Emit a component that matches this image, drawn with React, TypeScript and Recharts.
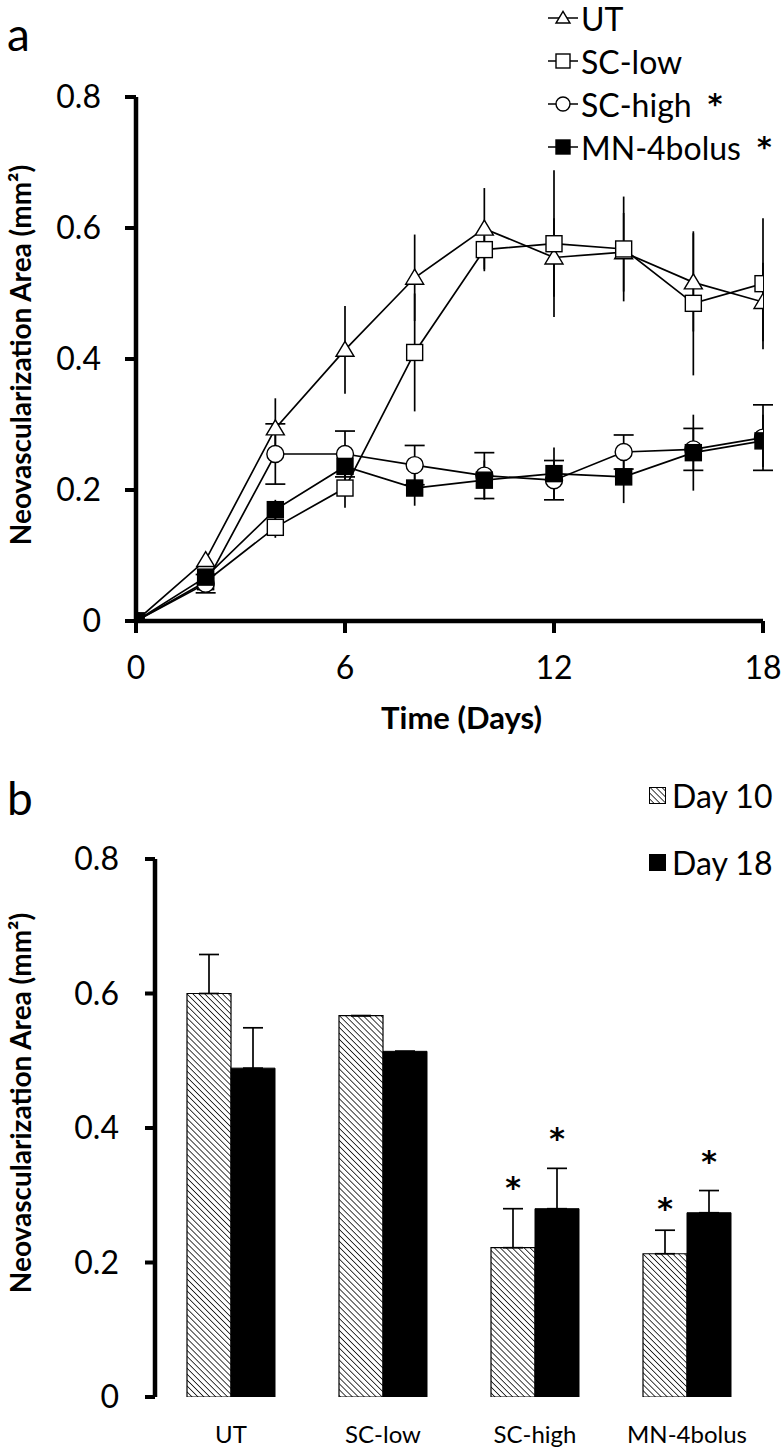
import React from 'react'
import { LineChart, Line, XAxis, YAxis, ErrorBar, BarChart, Bar, LabelList, Label } from 'recharts'

const FONT = 'Lato, "Open Sans", sans-serif'
const STAR_FONT = '"DejaVu Sans", sans-serif'

// panel a: time course
const days = [0, 2, 4, 6, 8, 10, 12, 14, 16, 18]
const utMean = [0, 0.093, 0.294, 0.414, 0.524, 0.599, 0.555, 0.563, 0.517, 0.487]
const utErr = [0, 0.01, 0.046, 0.067, 0.066, 0.062, 0.06, 0.06, 0.075, 0.06]
const scLowMean = [0, 0.06, 0.143, 0.203, 0.41, 0.567, 0.576, 0.568, 0.485, 0.515]
const scLowErr = [0, 0.01, 0.016, 0.03, 0.09, 0.033, 0.112, 0.08, 0.11, 0.1]
const scHighMean = [0, 0.057, 0.255, 0.255, 0.238, 0.222, 0.215, 0.258, 0.262, 0.28]
const scHighErr = [0, 0.014, 0.046, 0.035, 0.03, 0.035, 0.03, 0.026, 0.032, 0.05]
const mnMean = [0, 0.067, 0.17, 0.236, 0.203, 0.215, 0.225, 0.22, 0.257, 0.275]
const mnErr = [0, 0.01, 0.015, 0.02, 0.027, 0.03, 0.04, 0.04, 0.058, 0.04]
const dayTicks = [0, 6, 12, 18]
const areaTicks = [0, 0.2, 0.4, 0.6, 0.8]

// panel b: day 10 / day 18 comparison
const groups = ['UT', 'SC-low', 'SC-high', 'MN-4bolus']
const day10Mean = [0.6, 0.567, 0.222, 0.213]
const day10Err = [0.058, 0, 0.058, 0.035]
const day18Mean = [0.489, 0.514, 0.28, 0.274]
const day18Err = [0.06, 0, 0.06, 0.033]
const significant = [false, false, true, true]
const groupEdges = [0, 1, 2, 3, 4]

const timeData = days.map((day, i) => ({
  day,
  ut: utMean[i],
  utErr: utErr[i],
  scLow: scLowMean[i],
  scLowErr: scLowErr[i],
  scHigh: scHighMean[i],
  scHighErr: scHighErr[i],
  mn: mnMean[i],
  mnErr: mnErr[i],
}))

const barData = groups.map((group, i) => ({
  group,
  d10: day10Mean[i],
  d10Err: [0, day10Err[i]],
  d18: day18Mean[i],
  d18Err: [0, day18Err[i]],
}))

type Shape = 'triangle' | 'square' | 'circle' | 'filled'

const marker = (shape: Shape, cx: number, cy: number, s: number, key?: any) => {
  const h = s / 2
  if (shape === 'triangle') {
    return (
      <path
        key={key}
        d={`M${cx},${cy - h * 0.95} L${cx + h},${cy + h * 0.72} L${cx - h},${cy + h * 0.72} Z`}
        fill="#fff"
        stroke="#000"
        strokeWidth={1.4}
      />
    )
  }
  if (shape === 'circle') {
    return <circle key={key} cx={cx} cy={cy} r={h} fill="#fff" stroke="#000" strokeWidth={1.4} />
  }
  return (
    <rect
      key={key}
      x={cx - h}
      y={cy - h}
      width={s}
      height={s}
      fill={shape === 'filled' ? '#000' : '#fff'}
      stroke="#000"
      strokeWidth={1.4}
    />
  )
}

const dotOf = (shape: Shape, size: number) => (p: any) => marker(shape, p.cx, p.cy, size, `${shape}-${p.index}`)

const legendA: { name: string; shape: Shape; star: boolean }[] = [
  { name: 'UT', shape: 'triangle', star: false },
  { name: 'SC-low', shape: 'square', star: false },
  { name: 'SC-high', shape: 'circle', star: true },
  { name: 'MN-4bolus', shape: 'filled', star: true },
]

const legendB = [
  { name: 'Day 10', fill: 'url(#hatch)' },
  { name: 'Day 18', fill: '#000' },
]

const yTitle = (dy: number) => (props: any) => {
  const vb = props.viewBox
  const cy = vb.y + vb.height / 2 + dy
  return (
    <text
      x={0}
      y={0}
      transform={`translate(${31}, ${cy}) rotate(-90)`}
      textAnchor="middle"
      fontFamily={FONT}
      fontWeight={700}
      fontSize={28}
      fill="#000"
    >
      Neovascularization Area (mm²)
    </text>
  )
}

const xTitle = (props: any) => {
  const vb = props.viewBox
  return (
    <text
      x={vb.x + vb.width / 2 + 12}
      y={vb.y + 108}
      textAnchor="middle"
      fontFamily={FONT}
      fontWeight={700}
      fontSize={31}
      fill="#000"
    >
      Time (Days)
    </text>
  )
}

const starLabel = (errs: number[], lift: number) => (props: any) => {
  const { x, y, width, height, index, value } = props
  if (!significant[index] || !value) return null
  const top = y - (errs[index] * height) / value
  return (
    <text
      key={`star-${index}`}
      x={x + width / 2}
      y={top - lift}
      textAnchor="middle"
      fontFamily={STAR_FONT}
      fontWeight={700}
      fontSize={30}
      fill="#000"
    >
      *
    </text>
  )
}

const tickFmt = (v: number) => (v === 0 ? '0' : v.toFixed(1))
const tickFont = { fill: '#000', fontSize: 32, fontFamily: FONT }
const axisStroke = { stroke: '#000', strokeWidth: 4.5 }
const tickStroke = { stroke: '#000', strokeWidth: 4 }

const App = () => {
  return (
    <div style={{ position: 'absolute', left: 0, top: 0, width: 781, height: 1452, background: '#fff', fontFamily: FONT }}>
      <svg width={0} height={0} style={{ position: 'absolute' }}>
        <defs>
          <pattern id="hatch" patternUnits="userSpaceOnUse" width={4.2} height={4.2} patternTransform="rotate(-45)">
            <rect width={4.2} height={4.2} fill="#fff" />
            <line x1={0} y1={0} x2={0} y2={4.2} stroke="#000" strokeWidth={1.5} />
          </pattern>
        </defs>
      </svg>

      <div style={{ position: 'absolute', left: 7, top: 6, fontSize: 46, lineHeight: '56px' }}>a</div>

      <div style={{ position: 'absolute', left: 0, top: 0 }}>
        <LineChart width={781} height={760} data={timeData} margin={{ top: 97, right: 18, left: 0, bottom: 0 }}>
          <XAxis
            type="number"
            dataKey="day"
            domain={[0, 18]}
            ticks={dayTicks}
            allowDataOverflow
            axisLine={axisStroke}
            tickLine={tickStroke}
            tickSize={12}
            tickMargin={23}
            tick={tickFont}
            height={139}
          >
            <Label content={xTitle} />
          </XAxis>
          <YAxis
            type="number"
            domain={[0, 0.8]}
            ticks={areaTicks}
            allowDataOverflow
            tickFormatter={tickFmt}
            axisLine={axisStroke}
            tickLine={tickStroke}
            tickSize={11}
            tickMargin={24}
            tick={tickFont}
            width={136}
          >
            <Label content={yTitle(-4)} />
          </YAxis>
          <Line type="linear" dataKey="ut" stroke="#000" strokeWidth={1.7} dot={dotOf('triangle', 18)} isAnimationActive={false}>
            <ErrorBar dataKey="utErr" width={0} stroke="#000" strokeWidth={1.7} direction="y" />
          </Line>
          <Line type="linear" dataKey="scLow" stroke="#000" strokeWidth={1.7} dot={dotOf('square', 16)} isAnimationActive={false}>
            <ErrorBar dataKey="scLowErr" width={0} stroke="#000" strokeWidth={1.7} direction="y" />
          </Line>
          <Line type="linear" dataKey="scHigh" stroke="#000" strokeWidth={1.7} dot={dotOf('circle', 17)} isAnimationActive={false}>
            <ErrorBar dataKey="scHighErr" width={10} stroke="#000" strokeWidth={1.7} direction="y" />
          </Line>
          <Line type="linear" dataKey="mn" stroke="#000" strokeWidth={1.7} dot={dotOf('filled', 16)} isAnimationActive={false}>
            <ErrorBar dataKey="mnErr" width={0} stroke="#000" strokeWidth={1.7} direction="y" />
          </Line>
        </LineChart>
      </div>

      {legendA.map((item, i) => (
        <div
          key={item.name}
          style={{
            position: 'absolute',
            left: 546,
            top: i * 43 - 4,
            height: 44,
            display: 'flex',
            alignItems: 'center',
            whiteSpace: 'nowrap',
            fontSize: 32,
          }}
        >
          <svg width={34} height={20}>
            <line x1={2} y1={10} x2={32} y2={10} stroke="#000" strokeWidth={1.5} />
            {marker(item.shape, 17, 10, 14)}
          </svg>
          <span style={{ marginLeft: 1 }}>{item.name}</span>
          {item.star && (
            <span style={{ marginLeft: 16, fontWeight: 700, fontFamily: STAR_FONT, fontSize: 28 }}>*</span>
          )}
        </div>
      ))}

      <div style={{ position: 'absolute', left: 7, top: 770, fontSize: 46, lineHeight: '56px' }}>b</div>

      {legendB.map((item, i) => (
        <div
          key={item.name}
          style={{
            position: 'absolute',
            left: 649,
            top: 773 + i * 67,
            height: 44,
            display: 'flex',
            alignItems: 'center',
            whiteSpace: 'nowrap',
            fontSize: 32,
          }}
        >
          <svg width={17} height={17}>
            <rect x={0.5} y={0.5} width={16} height={16} fill={item.fill} stroke="#000" strokeWidth={1} />
          </svg>
          <span style={{ marginLeft: 6 }}>{item.name}</span>
        </div>
      ))}

      <div style={{ position: 'absolute', left: 0, top: 760 }}>
        <BarChart width={781} height={692} data={barData} margin={{ top: 99, right: 18, left: 0, bottom: 0 }} barGap={0}>
          <XAxis
            xAxisId="edges"
            type="number"
            domain={[0, 4]}
            ticks={groupEdges}
            allowDataOverflow
            tick={false}
            axisLine={axisStroke}
            tickLine={{ stroke: '#000', strokeWidth: 3.5 }}
            tickSize={12}
            height={0}
          />
          <XAxis
            dataKey="group"
            axisLine={false}
            tickLine={false}
            tickSize={0}
            tickMargin={29}
            tick={{ fill: '#000', fontSize: 24, fontFamily: FONT }}
            height={55}
          />
          <YAxis
            type="number"
            domain={[0, 0.8]}
            ticks={areaTicks}
            allowDataOverflow
            tickFormatter={tickFmt}
            axisLine={axisStroke}
            tickLine={tickStroke}
            tickSize={10}
            tickMargin={26}
            tick={tickFont}
            width={155}
          >
            <Label content={yTitle(-25)} />
          </YAxis>
          <Bar dataKey="d10" fill="url(#hatch)" stroke="#000" strokeWidth={1.2} barSize={44} isAnimationActive={false}>
            <ErrorBar dataKey="d10Err" width={10} stroke="#000" strokeWidth={1.7} direction="y" />
            <LabelList dataKey="d10" content={starLabel(day10Err, 11)} />
          </Bar>
          <Bar dataKey="d18" fill="#000" stroke="#000" strokeWidth={1} barSize={44} isAnimationActive={false}>
            <ErrorBar dataKey="d18Err" width={10} stroke="#000" strokeWidth={1.7} direction="y" />
            <LabelList dataKey="d18" content={starLabel(day18Err, 19)} />
          </Bar>
        </BarChart>
      </div>
    </div>
  )
}

export default App
